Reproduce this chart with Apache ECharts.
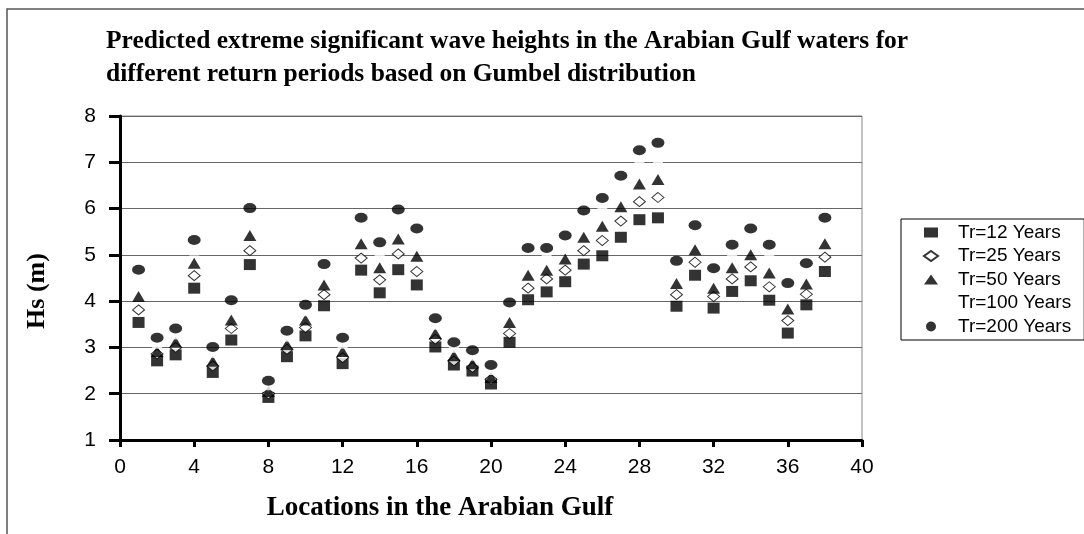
<!DOCTYPE html>
<html>
<head>
  <meta charset="UTF-8">
  <style>
    body { margin: 0; background: #fff; }
  </style>
  <script src="https://cdn.jsdelivr.net/npm/echarts@6/dist/echarts.min.js"></script>
</head>
<body>
  <div id="chart" style="width: 1084px; height: 534px;"></div>
  <script>
    // locations 1..38
    const locations = [1,2,3,4,5,6,7,8,9,10,11,12,13,14,15,16,17,18,19,20,
                       21,22,23,24,25,26,27,28,29,30,31,32,33,34,35,36,37,38]

    const tr12  = [3.54,2.71,2.84,4.28,2.46,3.16,4.79,1.92,2.80,3.25,3.90,2.65,4.67,4.18,4.68,4.35,3.01,2.62,2.49,2.21,
                   3.11,4.03,4.20,4.42,4.80,4.98,5.38,5.76,5.80,3.89,4.56,3.85,4.21,4.44,4.02,3.31,3.92,4.64]
    const tr25  = [3.81,2.86,3.00,4.55,2.60,3.41,5.09,2.00,2.96,3.43,4.14,2.78,4.93,4.46,5.02,4.64,3.18,2.71,2.57,2.31,
                   3.30,4.28,4.48,4.67,5.09,5.31,5.73,6.15,6.24,4.14,4.84,4.10,4.48,4.74,4.31,3.58,4.15,4.95]
    const tr50  = [4.10,2.91,3.11,4.82,2.70,3.59,5.42,2.05,3.06,3.59,4.35,2.91,5.24,4.72,5.34,4.97,3.30,2.82,2.65,2.35,
                   3.54,4.56,4.67,4.91,5.38,5.62,6.04,6.53,6.63,4.38,5.11,4.28,4.72,5.00,4.61,3.83,4.37,5.24]
    const tr100 = [4.38,3.06,3.26,5.07,2.86,3.80,5.72,2.16,3.21,3.76,4.58,3.06,5.52,5.00,5.66,5.27,3.47,2.97,2.80,2.49,
                   3.76,4.86,4.91,5.17,5.67,5.93,6.38,6.92,7.03,4.63,5.38,4.49,4.97,5.29,4.92,4.11,4.60,5.52]
    const tr200 = [4.68,3.21,3.41,5.32,3.01,4.02,6.01,2.28,3.36,3.92,4.80,3.21,5.80,5.27,5.98,5.57,3.63,3.11,2.94,2.62,
                   3.97,5.15,5.15,5.42,5.96,6.23,6.71,7.26,7.42,4.87,5.64,4.71,5.22,5.57,5.22,4.39,4.82,5.80]

    const seriesNames = ['Tr=12 Years', 'Tr=25 Years', 'Tr=50 Years', 'Tr=100 Years', 'Tr=200 Years']

    function pairs (vals) {
      return locations.map((x, i) => [x, vals[i]])
    }

    const myChart = echarts.init(document.getElementById('chart'))

    const options = {
      backgroundColor: '#fff',
      animation: false,
      title: {
        text: 'Predicted extreme significant wave heights in the Arabian Gulf waters for\ndifferent return periods based on Gumbel distribution',
        left: 101,
        top: 20,
        textStyle: {
          fontFamily: 'Liberation Serif',
          fontWeight: 'bold',
          fontSize: 25.5,
          lineHeight: 33,
          color: '#000'
        }
      },
      graphic: [
        {
          type: 'rect',
          shape: { x: 7, y: 9, width: 1200, height: 700 },
          style: { fill: 'none', stroke: '#555', lineWidth: 1.5 },
          silent: true
        }
      ],
      legend: {
        orient: 'vertical',
        left: 901,
        top: 219,
        padding: [4, 13, 4, 22],
        itemWidth: 14,
        itemHeight: 10,
        itemGap: 4.5,
        borderColor: '#000',
        borderWidth: 1,
        textStyle: {
          fontFamily: 'Liberation Sans',
          fontSize: 19,
          color: '#000',
          padding: [0, 0, 0, 15]
        },
        data: seriesNames
      },
      grid: {
        left: 120,
        top: 116,
        right: 222,
        bottom: 94,
        show: true,
        borderColor: '#888',
        borderWidth: 1
      },
      xAxis: {
        type: 'value',
        min: 0,
        max: 40,
        interval: 4,
        name: 'Locations in the Arabian Gulf',
        nameLocation: 'middle',
        nameGap: 55,
        nameTextStyle: {
          fontFamily: 'Liberation Serif',
          fontWeight: 'bold',
          fontSize: 27,
          color: '#000',
          padding: [0, 102, 0, 0]
        },
        axisLine: { lineStyle: { color: '#000', width: 3 } },
        axisTick: { inside: false, length: 7, lineStyle: { color: '#000', width: 3 } },
        splitLine: { show: false },
        axisLabel: {
          margin: 17,
          fontFamily: 'Liberation Sans',
          fontSize: 21,
          color: '#000'
        }
      },
      yAxis: {
        type: 'value',
        min: 1,
        max: 8,
        interval: 1,
        name: 'Hs (m)',
        nameLocation: 'middle',
        nameGap: 70,
        nameRotate: 90,
        nameTextStyle: {
          fontFamily: 'Liberation Serif',
          fontWeight: 'bold',
          fontSize: 26,
          color: '#000',
          padding: [0, 26, 0, 0]
        },
        axisLine: { show: true, lineStyle: { color: '#000', width: 3 } },
        axisTick: { show: true, inside: false, length: 11, lineStyle: { color: '#000', width: 3 } },
        splitLine: { lineStyle: { color: '#666', width: 1 } },
        axisLabel: {
          margin: 24,
          fontFamily: 'Liberation Sans',
          fontSize: 21,
          color: '#000'
        }
      },
      series: [
        {
          name: seriesNames[0],
          type: 'scatter',
          symbol: 'rect',
          symbolSize: [12, 11],
          itemStyle: { color: '#000' },
          data: pairs(tr12)
        },
        {
          name: seriesNames[1],
          type: 'scatter',
          symbol: 'diamond',
          symbolSize: [12, 10],
          itemStyle: { color: '#fff', borderColor: '#000', borderWidth: 1 },
          data: pairs(tr25)
        },
        {
          name: seriesNames[2],
          type: 'scatter',
          symbol: 'triangle',
          symbolSize: [13, 11],
          itemStyle: { color: '#000' },
          data: pairs(tr50)
        },
        {
          // white markers, only visible where they cut the gridlines
          name: seriesNames[3],
          type: 'scatter',
          symbol: 'rect',
          symbolSize: [10, 8],
          itemStyle: { color: '#fff' },
          data: pairs(tr100)
        },
        {
          name: seriesNames[4],
          type: 'scatter',
          symbol: 'circle',
          symbolSize: [13, 10],
          itemStyle: { color: '#000' },
          data: pairs(tr200)
        }
      ]
    }

    myChart.setOption(options)
  </script>
</body>
</html>
